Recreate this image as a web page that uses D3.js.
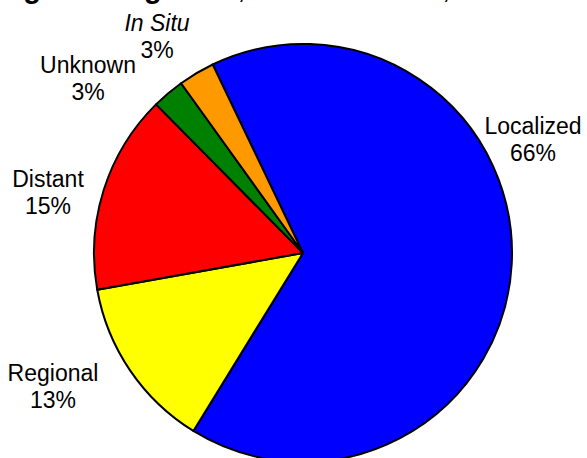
<!DOCTYPE html>
<html>
<head>
<meta charset="utf-8">
<script src="https://cdn.jsdelivr.net/npm/d3@7"></script>
<style>
  body { margin: 0; background: #fff; }
  svg { display: block; font-family: Arial, "Liberation Sans", sans-serif; }
</style>
</head>
<body>
<div id="chart"></div>
<script>
const stages = ["Localized", "Regional", "Distant", "Unknown", "In Situ"];
const percents = [65.9, 13.4, 15.4, 2.5, 2.8];
const percentLabels = ["66%", "13%", "15%", "3%", "3%"];
const colors = ["#0000ff", "#ffff00", "#ff0000", "#008000", "#ff9900"];

const width = 587, height = 458;
const cx = 303, cy = 253, radius = 209;

// where each label sits (hand placed, like the original)
const labelAt = {
  "Localized": [533, 134],
  "Regional": [53, 381],
  "Distant": [48, 187],
  "Unknown": [88, 73],
  "In Situ": [157, 31]
};

d3.select("svg").remove();
const svg = d3.select("#chart")
  .append("svg")
  .attr("width", width)
  .attr("height", height);

// title, mostly cut off by the top edge
const title = svg.append("text")
  .attr("x", -22)
  .attr("y", -2)
  .attr("font-size", 29)
  .attr("fill", "#000");
title.append("tspan").attr("font-weight", "bold").text("Stage at Diagnosis");
title.append("tspan").text(", Female Breast, All Races and Both Sexes");

const start = -25.6 * Math.PI / 180;
const pie = d3.pie().sort(null).startAngle(start).endAngle(start + 2 * Math.PI);
const arc = d3.arc().innerRadius(0).outerRadius(radius);

const data = stages.map((s, i) => ({ stage: s, value: percents[i], label: percentLabels[i], color: colors[i] }));

const g = svg.append("g").attr("transform", `translate(${cx},${cy})`);
g.selectAll("path")
  .data(pie.value(d => d.value)(data))
  .enter()
  .append("path")
  .attr("d", arc)
  .attr("fill", d => d.data.color)
  .attr("stroke", "#000")
  .attr("stroke-width", 2)
  .attr("stroke-linejoin", "round");

const labels = svg.selectAll("text.lab")
  .data(data)
  .enter()
  .append("text")
  .attr("class", "lab")
  .attr("text-anchor", "middle")
  .attr("font-size", 23)
  .attr("fill", "#000")
  .attr("x", d => labelAt[d.stage][0])
  .attr("y", d => labelAt[d.stage][1]);
labels.append("tspan")
  .attr("x", d => labelAt[d.stage][0])
  .attr("font-style", d => d.stage === "In Situ" ? "italic" : "normal")
  .text(d => d.stage);
labels.append("tspan")
  .attr("x", d => labelAt[d.stage][0])
  .attr("dy", 27)
  .text(d => d.label);
</script>
</body>
</html>
